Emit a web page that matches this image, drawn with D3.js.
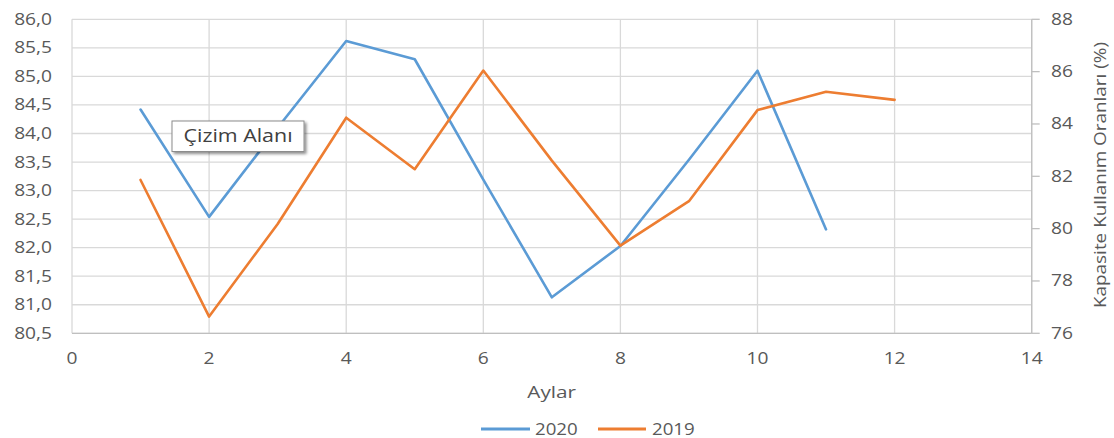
<!DOCTYPE html>
<html>
<head>
<meta charset="utf-8">
<script src="https://cdn.jsdelivr.net/npm/d3@7"></script>
<style>
  html, body { margin: 0; padding: 0; background: #fff; }
  svg { display: block; font-family: "Open Sans", "Liberation Sans", sans-serif; }
</style>
</head>
<body>
<svg id="chart" width="1114" height="438"></svg>
<script>
// ---- data ----
const months2020 = [1, 2, 3, 4, 5, 6, 7, 8, 9, 10, 11];
const values2020 = [84.42, 82.54, 84.1, 85.62, 85.30, 83.19, 81.13, 82.03, 83.54, 85.10, 82.32];
const months2019 = [1, 2, 3, 4, 5, 6, 7, 8, 9, 10, 11, 12];
const values2019 = [81.86, 76.64, 80.18, 84.24, 82.27, 86.04, 82.6, 79.35, 81.05, 84.53, 85.23, 84.92];
const xTicks = [0, 2, 4, 6, 8, 10, 12, 14];
const leftTicks = [80.5, 81.0, 81.5, 82.0, 82.5, 83.0, 83.5, 84.0, 84.5, 85.0, 85.5, 86.0];
const rightTicks = [76, 78, 80, 82, 84, 86, 88];
const seriesNames = ["2020", "2019"];
const xTitle = "Aylar";
const yRightTitle = "Kapasite Kullanım Oranları (%)";
const tooltipText = "Çizim Alanı";

// ---- layout ----
const svg = d3.select("#chart");
const L = 72, R = 1031.7, T = 19.3, B = 333.3;
const blue = "#5B9BD5", orange = "#ED7D31", textCol = "#595959";

const x = d3.scaleLinear().domain([0, 14]).range([L, R]);
const yL = d3.scaleLinear().domain([80.5, 86]).range([B, T]);
const yR = d3.scaleLinear().domain([76, 88]).range([B, T]);

const fmtL = d => d3.format(".1f")(d).replace(".", ",");

// scaled-text helper
function stext(g, px, py, str, opts) {
  const sx = opts.sx || 1;
  const grp = g.append("g").attr("transform", `translate(${px},${py}) scale(${sx},1)`);
  grp.append("text")
    .attr("text-anchor", opts.anchor || "start")
    .attr("font-size", opts.size || 16)
    .attr("fill", opts.fill || textCol)
    .text(str);
  return grp;
}

// gridlines
const grid = svg.append("g");
grid.selectAll("line.h").data(leftTicks).join("line")
  .attr("x1", L).attr("x2", R)
  .attr("y1", d => yL(d)).attr("y2", d => yL(d))
  .attr("stroke", "#d9d9d9").attr("stroke-width", 1.3);
grid.selectAll("line.v").data(xTicks).join("line")
  .attr("x1", d => x(d)).attr("x2", d => x(d))
  .attr("y1", T).attr("y2", B)
  .attr("stroke", "#d9d9d9").attr("stroke-width", 1.3);

// bottom axis line
svg.append("line").attr("x1", L).attr("x2", R).attr("y1", B).attr("y2", B)
  .attr("stroke", "#bfbfbf").attr("stroke-width", 1.3);
// right axis line + ticks
const rAx = svg.append("g");
rAx.append("line").attr("x1", R).attr("x2", R).attr("y1", T).attr("y2", B)
  .attr("stroke", "#bfbfbf").attr("stroke-width", 1.3);
rAx.selectAll("line.t").data(rightTicks).join("line")
  .attr("x1", R).attr("x2", R + 8)
  .attr("y1", d => yR(d)).attr("y2", d => yR(d))
  .attr("stroke", "#bfbfbf").attr("stroke-width", 1.3);

// tick labels
const labels = svg.append("g");
leftTicks.forEach(d => stext(labels, 52, yL(d) + 5.5, fmtL(d), { anchor: "end", size: 16, sx: 1.2 }));
rightTicks.forEach(d => stext(labels, 1051, yR(d) + 5.5, String(d), { anchor: "start", size: 16, sx: 1.2 }));
xTicks.forEach(d => stext(labels, x(d), 363.5, String(d), { anchor: "middle", size: 16, sx: 1.2 }));

// axis titles
stext(svg, 551.7, 397.5, xTitle, { anchor: "middle", size: 17, sx: 1.22 });
svg.append("text")
  .attr("transform", `translate(1106,175) rotate(-90)`)
  .attr("text-anchor", "middle")
  .attr("font-size", 16.5)
  .attr("fill", textCol)
  .attr("textLength", 266)
  .attr("lengthAdjust", "spacingAndGlyphs")
  .text(yRightTitle);

// lines
const line2020 = d3.line().x((d, i) => x(months2020[i])).y(d => yL(d));
const line2019 = d3.line().x((d, i) => x(months2019[i])).y(d => yR(d));
svg.append("path").datum(values2020).attr("d", line2020)
  .attr("fill", "none").attr("stroke", blue).attr("stroke-width", 2.6)
  .attr("stroke-linejoin", "round").attr("stroke-linecap", "round");
svg.append("path").datum(values2019).attr("d", line2019)
  .attr("fill", "none").attr("stroke", orange).attr("stroke-width", 2.6)
  .attr("stroke-linejoin", "round").attr("stroke-linecap", "round");

// tooltip "Çizim Alanı"
const tip = svg.append("g");
const defs = svg.append("defs");
const f = defs.append("filter").attr("id", "sh").attr("x", "-20%").attr("y", "-40%").attr("width", "140%").attr("height", "180%");
f.append("feGaussianBlur").attr("in", "SourceAlpha").attr("stdDeviation", 1.5);
f.append("feOffset").attr("dx", 2).attr("dy", 2).attr("result", "o");
f.append("feComponentTransfer").append("feFuncA").attr("type", "linear").attr("slope", 0.45);
const fm = f.append("feMerge");
fm.append("feMergeNode");
fm.append("feMergeNode").attr("in", "SourceGraphic");
tip.append("rect").attr("x", 172).attr("y", 121).attr("width", 132).attr("height", 30.5)
  .attr("fill", "#fff").attr("stroke", "#8c8c8c").attr("stroke-width", 1).attr("filter", "url(#sh)");
stext(tip, 183.5, 141.8, tooltipText, { anchor: "start", size: 18, sx: 1.19, fill: "#404040" });

// legend
const lg = svg.append("g");
const legendItems = [
  { name: seriesNames[0], color: blue, x0: 481, x1: 530, tx: 535 },
  { name: seriesNames[1], color: orange, x0: 598, x1: 646, tx: 652 }
];
legendItems.forEach(it => {
  lg.append("line").attr("x1", it.x0).attr("x2", it.x1).attr("y1", 429).attr("y2", 429)
    .attr("stroke", it.color).attr("stroke-width", 2.8);
  stext(lg, it.tx, 434.5, it.name, { anchor: "start", size: 17, sx: 1.1 });
});
</script>
</body>
</html>
